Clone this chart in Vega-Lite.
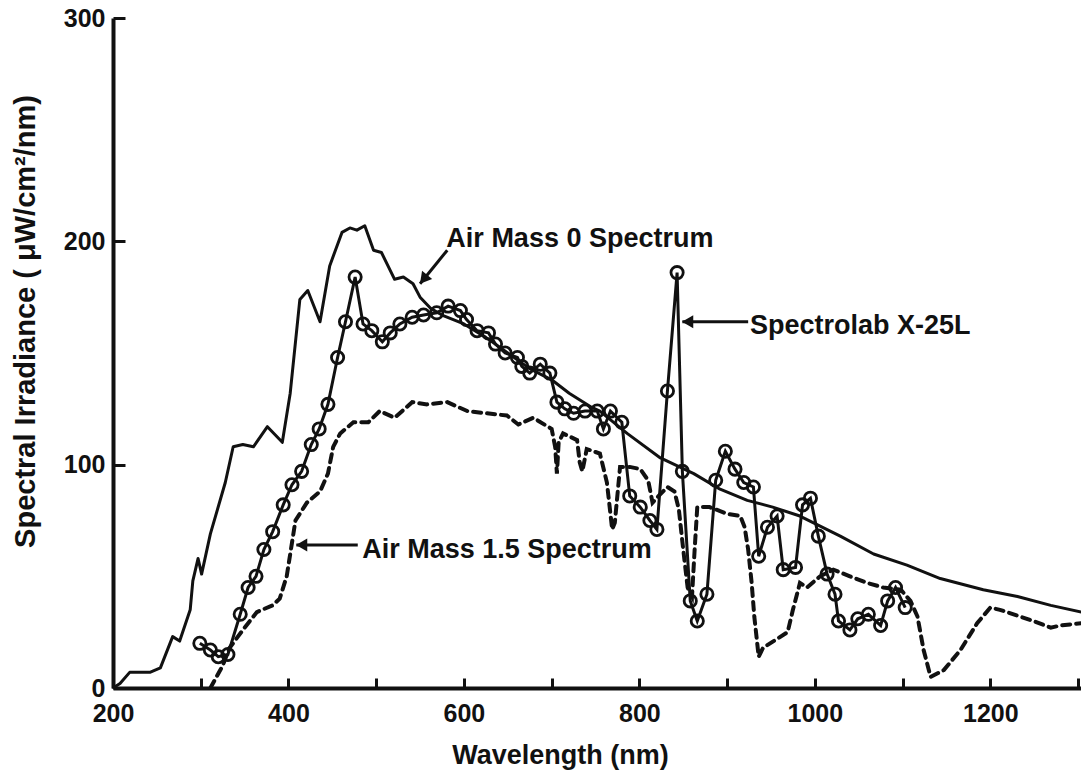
{
  "$schema": "https://vega.github.io/schema/vega-lite/v6.json",
  "width": 968,
  "height": 670,
  "autosize": {"type": "none"},
  "padding": {"left": 113, "top": 18, "right": 0, "bottom": 84},
  "background": "white",
  "config": {
    "view": {"stroke": null},
    "font": "Liberation Sans",
    "axis": {"grid": false, "domainColor": "#111", "tickColor": "#111", "labelColor": "#111", "titleColor": "#111", "labelFont": "Liberation Sans", "titleFont": "Liberation Sans", "labelFontWeight": "bold", "titleFontWeight": "bold"}
  },
  "datasets": {
    "am0": [
      {"nm": 200, "irr": 0}, {"nm": 208, "irr": 2}, {"nm": 219, "irr": 7}, {"nm": 231, "irr": 7}, {"nm": 242, "irr": 7}, {"nm": 254, "irr": 9},
      {"nm": 268, "irr": 23}, {"nm": 276, "irr": 21}, {"nm": 288, "irr": 35}, {"nm": 291, "irr": 48}, {"nm": 297, "irr": 58}, {"nm": 301, "irr": 51},
      {"nm": 311, "irr": 69}, {"nm": 328, "irr": 92}, {"nm": 337, "irr": 108}, {"nm": 348, "irr": 109}, {"nm": 360, "irr": 108}, {"nm": 376, "irr": 117},
      {"nm": 393, "irr": 110}, {"nm": 402, "irr": 132}, {"nm": 413, "irr": 174}, {"nm": 422, "irr": 178}, {"nm": 436, "irr": 164}, {"nm": 447, "irr": 189},
      {"nm": 461, "irr": 204}, {"nm": 470, "irr": 206}, {"nm": 478, "irr": 205}, {"nm": 487, "irr": 207}, {"nm": 497, "irr": 196}, {"nm": 506, "irr": 195},
      {"nm": 521, "irr": 183}, {"nm": 531, "irr": 184}, {"nm": 542, "irr": 181}, {"nm": 550, "irr": 175}, {"nm": 562, "irr": 170}, {"nm": 575, "irr": 167},
      {"nm": 600, "irr": 163}, {"nm": 625, "irr": 157}, {"nm": 650, "irr": 150}, {"nm": 675, "irr": 143}, {"nm": 700, "irr": 138}, {"nm": 720, "irr": 132},
      {"nm": 744, "irr": 126}, {"nm": 755, "irr": 124}, {"nm": 786, "irr": 114}, {"nm": 824, "irr": 103}, {"nm": 862, "irr": 96}, {"nm": 892, "irr": 89},
      {"nm": 923, "irr": 84}, {"nm": 952, "irr": 81}, {"nm": 983, "irr": 77}, {"nm": 1029, "irr": 68}, {"nm": 1067, "irr": 60}, {"nm": 1105, "irr": 55},
      {"nm": 1143, "irr": 49}, {"nm": 1192, "irr": 44}, {"nm": 1231, "irr": 41}, {"nm": 1269, "irr": 37}, {"nm": 1304, "irr": 34}
    ],
    "am15": [
      {"nm": 311, "irr": 0}, {"nm": 318, "irr": 5}, {"nm": 325, "irr": 10}, {"nm": 333, "irr": 18}, {"nm": 348, "irr": 26}, {"nm": 364, "irr": 34},
      {"nm": 382, "irr": 37}, {"nm": 390, "irr": 40}, {"nm": 398, "irr": 50}, {"nm": 404, "irr": 65}, {"nm": 408, "irr": 75}, {"nm": 421, "irr": 83},
      {"nm": 436, "irr": 88}, {"nm": 445, "irr": 96}, {"nm": 451, "irr": 108}, {"nm": 459, "irr": 114}, {"nm": 474, "irr": 119}, {"nm": 491, "irr": 119},
      {"nm": 504, "irr": 124}, {"nm": 521, "irr": 121}, {"nm": 541, "irr": 128}, {"nm": 558, "irr": 127}, {"nm": 581, "irr": 128}, {"nm": 604, "irr": 124},
      {"nm": 626, "irr": 123}, {"nm": 649, "irr": 122}, {"nm": 662, "irr": 118}, {"nm": 679, "irr": 121}, {"nm": 700, "irr": 116}, {"nm": 704, "irr": 108},
      {"nm": 706, "irr": 96}, {"nm": 708, "irr": 110}, {"nm": 713, "irr": 114}, {"nm": 729, "irr": 111}, {"nm": 732, "irr": 101}, {"nm": 735, "irr": 97},
      {"nm": 740, "irr": 107}, {"nm": 755, "irr": 105}, {"nm": 763, "irr": 92}, {"nm": 769, "irr": 71}, {"nm": 772, "irr": 74}, {"nm": 778, "irr": 99},
      {"nm": 789, "irr": 99}, {"nm": 801, "irr": 98}, {"nm": 810, "irr": 93}, {"nm": 815, "irr": 83}, {"nm": 822, "irr": 86}, {"nm": 832, "irr": 90},
      {"nm": 840, "irr": 88}, {"nm": 845, "irr": 80}, {"nm": 850, "irr": 62}, {"nm": 855, "irr": 45}, {"nm": 860, "irr": 41}, {"nm": 863, "irr": 62},
      {"nm": 866, "irr": 81}, {"nm": 880, "irr": 81}, {"nm": 900, "irr": 78}, {"nm": 915, "irr": 77}, {"nm": 920, "irr": 72}, {"nm": 924, "irr": 62},
      {"nm": 928, "irr": 47}, {"nm": 931, "irr": 32}, {"nm": 936, "irr": 14}, {"nm": 941, "irr": 18}, {"nm": 953, "irr": 21}, {"nm": 969, "irr": 25},
      {"nm": 975, "irr": 35}, {"nm": 983, "irr": 47}, {"nm": 991, "irr": 45}, {"nm": 1006, "irr": 50}, {"nm": 1021, "irr": 53}, {"nm": 1040, "irr": 50},
      {"nm": 1060, "irr": 47}, {"nm": 1078, "irr": 45}, {"nm": 1098, "irr": 44}, {"nm": 1109, "irr": 39}, {"nm": 1117, "irr": 32}, {"nm": 1124, "irr": 17},
      {"nm": 1132, "irr": 5}, {"nm": 1147, "irr": 8}, {"nm": 1166, "irr": 17}, {"nm": 1185, "irr": 29}, {"nm": 1200, "irr": 36}, {"nm": 1211, "irr": 35},
      {"nm": 1234, "irr": 32}, {"nm": 1249, "irr": 30}, {"nm": 1269, "irr": 27}, {"nm": 1280, "irr": 28}, {"nm": 1304, "irr": 29}
    ],
    "x25l": [
      {"nm": 299, "irr": 20}, {"nm": 311, "irr": 17}, {"nm": 320, "irr": 14}, {"nm": 331, "irr": 15}, {"nm": 345, "irr": 33}, {"nm": 354, "irr": 45},
      {"nm": 363, "irr": 50}, {"nm": 372, "irr": 62}, {"nm": 382, "irr": 70}, {"nm": 394, "irr": 82}, {"nm": 404, "irr": 91}, {"nm": 415, "irr": 97},
      {"nm": 426, "irr": 109}, {"nm": 435, "irr": 116}, {"nm": 445, "irr": 127}, {"nm": 456, "irr": 148}, {"nm": 465, "irr": 164}, {"nm": 476, "irr": 184},
      {"nm": 485, "irr": 163}, {"nm": 495, "irr": 160}, {"nm": 507, "irr": 155}, {"nm": 516, "irr": 159}, {"nm": 527, "irr": 163}, {"nm": 541, "irr": 166},
      {"nm": 554, "irr": 167}, {"nm": 569, "irr": 168}, {"nm": 582, "irr": 171}, {"nm": 596, "irr": 169}, {"nm": 603, "irr": 165}, {"nm": 615, "irr": 160},
      {"nm": 628, "irr": 159}, {"nm": 636, "irr": 154}, {"nm": 647, "irr": 150}, {"nm": 661, "irr": 148}, {"nm": 666, "irr": 144}, {"nm": 675, "irr": 141},
      {"nm": 687, "irr": 145}, {"nm": 698, "irr": 141}, {"nm": 706, "irr": 128}, {"nm": 715, "irr": 125}, {"nm": 725, "irr": 123}, {"nm": 738, "irr": 124},
      {"nm": 752, "irr": 124}, {"nm": 759, "irr": 116}, {"nm": 767, "irr": 124}, {"nm": 780, "irr": 119}, {"nm": 789, "irr": 86}, {"nm": 801, "irr": 81},
      {"nm": 812, "irr": 75}, {"nm": 820, "irr": 71}, {"nm": 832, "irr": 133}, {"nm": 843, "irr": 186}, {"nm": 849, "irr": 97}, {"nm": 858, "irr": 39},
      {"nm": 866, "irr": 30}, {"nm": 877, "irr": 42}, {"nm": 887, "irr": 93}, {"nm": 898, "irr": 106}, {"nm": 909, "irr": 98}, {"nm": 919, "irr": 92},
      {"nm": 930, "irr": 90}, {"nm": 936, "irr": 59}, {"nm": 946, "irr": 72}, {"nm": 957, "irr": 77}, {"nm": 964, "irr": 53}, {"nm": 978, "irr": 54},
      {"nm": 986, "irr": 82}, {"nm": 995, "irr": 85}, {"nm": 1004, "irr": 68}, {"nm": 1014, "irr": 51}, {"nm": 1023, "irr": 42}, {"nm": 1027, "irr": 30},
      {"nm": 1040, "irr": 26}, {"nm": 1049, "irr": 31}, {"nm": 1061, "irr": 33}, {"nm": 1075, "irr": 28}, {"nm": 1083, "irr": 39}, {"nm": 1092, "irr": 45},
      {"nm": 1103, "irr": 36}
    ],
    "labels": [
      {"label": "Air Mass 0 Spectrum", "nm": 580, "irr": 201},
      {"label": "Spectrolab X-25L", "nm": 926, "irr": 162},
      {"label": "Air Mass 1.5 Spectrum", "nm": 484, "irr": 62}
    ],
    "arrows": [
      {"arrow": "am0", "nm": 581, "irr": 196, "nm2": 550, "irr2": 181, "tipNm": 554, "tipIrr": 183},
      {"arrow": "x25", "nm": 924, "irr": 164, "nm2": 849, "irr2": 164, "tipNm": 855, "tipIrr": 164},
      {"arrow": "am15", "nm": 479, "irr": 64, "nm2": 409, "irr2": 64, "tipNm": 415, "tipIrr": 64}
    ]
  },
  "layer": [
    {
      "data": {"name": "am0"},
      "mark": {"type": "line", "color": "#111", "strokeWidth": 3, "strokeJoin": "round"},
      "encoding": {
        "x": {"field": "nm", "type": "quantitative", "scale": {"domain": [200, 1303.4], "nice": false, "zero": false},
          "axis": {"values": [200, 300, 400, 500, 600, 700, 800, 900, 1000, 1100, 1200, 1300],
            "labelExpr": "datum.value % 200 == 0 && datum.value < 1300 ? datum.label : ''",
            "format": "d", "tickSize": -10, "tickWidth": 3, "domainWidth": 4, "labelFontSize": 25, "labelPadding": 23, "labelFlush": false,
            "title": "Wavelength (nm)", "titleFontSize": 27, "titleX": 447, "titleY": 75, "titleAlign": "center", "titleBaseline": "alphabetic"}},
        "y": {"field": "irr", "type": "quantitative", "scale": {"domain": [0, 300], "nice": false},
          "axis": {"values": [0, 100, 200, 300], "tickSize": -12, "tickWidth": 3, "domainWidth": 4, "labelFontSize": 25, "labelPadding": 20, "labelFlush": false,
            "title": "Spectral Irradiance ( μW/cm²/nm)", "titleFontSize": 29, "titleAngle": -90, "titleX": -88, "titleY": 303, "titleAlign": "center", "titleBaseline": "middle"}}
      }
    },
    {
      "data": {"name": "am15"},
      "mark": {"type": "line", "color": "#111", "strokeWidth": 4, "strokeDash": [8, 6], "strokeCap": "round"},
      "encoding": {"x": {"field": "nm", "type": "quantitative"}, "y": {"field": "irr", "type": "quantitative"}}
    },
    {
      "data": {"name": "x25l"},
      "mark": {"type": "line", "color": "#111", "strokeWidth": 3},
      "encoding": {"x": {"field": "nm", "type": "quantitative"}, "y": {"field": "irr", "type": "quantitative"}}
    },
    {
      "data": {"name": "x25l"},
      "mark": {"type": "point", "shape": "circle", "filled": false, "color": "#111", "strokeWidth": 2.8, "size": 150, "opacity": 1},
      "encoding": {"x": {"field": "nm", "type": "quantitative"}, "y": {"field": "irr", "type": "quantitative"}}
    },
    {
      "data": {"name": "arrows"},
      "mark": {"type": "rule", "color": "#111", "strokeWidth": 3},
      "encoding": {"x": {"field": "nm", "type": "quantitative"}, "y": {"field": "irr", "type": "quantitative"},
        "x2": {"field": "nm2"}, "y2": {"field": "irr2"}}
    },
    {
      "data": {"name": "arrows"},
      "transform": [{"filter": "datum.arrow != 'am0'"}],
      "mark": {"type": "point", "shape": "triangle-left", "filled": true, "color": "#111", "size": 170, "opacity": 1},
      "encoding": {"x": {"field": "tipNm", "type": "quantitative"}, "y": {"field": "tipIrr", "type": "quantitative"}}
    },
    {
      "data": {"name": "arrows"},
      "transform": [{"filter": "datum.arrow == 'am0'"}],
      "mark": {"type": "point", "shape": "triangle-up", "angle": 219, "filled": true, "color": "#111", "size": 170, "opacity": 1},
      "encoding": {"x": {"field": "tipNm", "type": "quantitative"}, "y": {"field": "tipIrr", "type": "quantitative"}}
    },
    {
      "data": {"name": "labels"},
      "mark": {"type": "text", "align": "left", "baseline": "middle", "font": "Liberation Sans", "fontWeight": "bold", "fontSize": 27, "color": "#111"},
      "encoding": {"x": {"field": "nm", "type": "quantitative"}, "y": {"field": "irr", "type": "quantitative"}, "text": {"field": "label"}}
    }
  ]
}
